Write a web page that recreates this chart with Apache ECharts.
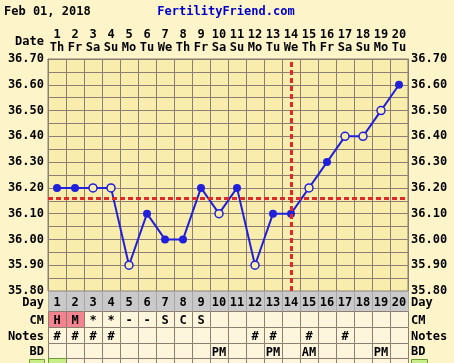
<!DOCTYPE html>
<html>
<head>
<meta charset="utf-8">
<script src="https://cdn.jsdelivr.net/npm/echarts@6/dist/echarts.min.js"></script>
<style>
html,body{margin:0;padding:0;background:#FDF5C9;}
#chart{width:454px;height:363px;}
</style>
</head>
<body>
<div id="chart"></div>
<script>
// ---- data ----
const chartDate = 'Feb 01, 2018';
const siteName = 'FertilityFriend.com';
const days = ['1','2','3','4','5','6','7','8','9','10','11','12','13','14','15','16','17','18','19','20'];
const weekdays = ['Th','Fr','Sa','Su','Mo','Tu','We','Th','Fr','Sa','Su','Mo','Tu','We','Th','Fr','Sa','Su','Mo','Tu'];
const temps = [36.20,36.20,36.20,36.20,35.90,36.10,36.00,36.00,36.20,36.10,36.20,35.90,36.10,36.10,36.20,36.30,36.40,36.40,36.50,36.60];
const openMarker = [false,false,true,true,true,false,false,false,false,true,false,true,false,false,true,false,true,true,true,false];
const cmRow = ['H','M','*','*','-','-','S','C','S','','','','','','','','','','',''];
const cmHighlight = [true,true,false,false,false,false,false,false,false,false,false,false,false,false,false,false,false,false,false,false];
const notesRow = ['#','#','#','#','','','','','','','','#','#','','#','','#','','',''];
const bdRow = ['','','','','','','','','','PM','','','PM','','AM','','','','PM',''];
const extraRowGreen = [true,false,false,false,false,false,false,false,false,false,false,false,false,false,false,false,false,false,false,false];
const coverline = 36.155;
const ovulationDay = '14';
const yTickLabels = ['35.80','35.90','36.00','36.10','36.20','36.30','36.40','36.50','36.60','36.70'];
const rowLabels = ['Day','CM','Notes','BD'];

// ---- style ----
const FONT = '"DejaVu Sans Mono", monospace';
const outerBg = '#FDF5C9';
const plotBg = '#F9EDAE';
const rowBg = '#FDF6DC';
const gridColor = '#8C7E70';
const blue = '#2020DC';
const red = '#E02A2A';
const txt = {fontFamily: FONT, fontWeight: 'bold', fontSize: 12, color: '#000'};

const chart = echarts.init(document.getElementById('chart'), null, {renderer: 'canvas'});

const rowH = [20, 16, 16, 15, 8];

function renderTable(params, api) {
  const i = api.value(0);
  const p = api.coord([i, 35.8]);
  const w = api.size([1, 0])[0];
  const x0 = Math.round(p[0] - w / 2) + 0.5;
  let y = Math.round(p[1]) + 0.5;
  const children = [];
  const rows = [
    {text: days[i], fill: '#C9C9C9', stroke: '#A8A8A8'},
    {text: cmRow[i], fill: cmHighlight[i] ? '#F2838F' : rowBg, stroke: gridColor},
    {text: notesRow[i], fill: rowBg, stroke: gridColor},
    {text: bdRow[i], fill: rowBg, stroke: gridColor},
    {text: '', fill: extraRowGreen[i] ? '#C8EE88' : rowBg, stroke: extraRowGreen[i] ? '#6E9A3A' : gridColor}
  ];
  rows.forEach(function (r, k) {
    const h = rowH[k];
    children.push({
      type: 'rect',
      shape: {x: x0, y: y, width: Math.round(w), height: h},
      style: {fill: r.fill, stroke: r.stroke, lineWidth: 1}
    });
    if (r.text) {
      children.push({
        type: 'text',
        style: {
          text: r.text, x: p[0], y: y + h / 2 + 1.5,
          align: 'center', verticalAlign: 'middle',
          font: 'bold 12px ' + FONT, fill: '#000'
        }
      });
    }
    y += h;
  });
  return {type: 'group', children: children};
}

const seriesData = temps.map(function (v, i) {
  return openMarker[i]
    ? {value: v, itemStyle: {color: plotBg, borderColor: blue, borderWidth: 1.5}}
    : {value: v, itemStyle: {color: blue, borderColor: blue, borderWidth: 0}};
});

const yLabelFmt = function (v) {
  const s = v.toFixed(2);
  return yTickLabels.indexOf(s) >= 0 ? s : '';
};

const labelYs = [303, 321, 337, 352];
const rowLabelGraphics = [];
rowLabels.forEach(function (t, k) {
  rowLabelGraphics.push({type: 'text', x: 44, y: labelYs[k], style: {text: t, font: 'bold 12px ' + FONT, fill: '#000', align: 'right', verticalAlign: 'middle'}});
  rowLabelGraphics.push({type: 'text', x: 411, y: labelYs[k], style: {text: t, font: 'bold 12px ' + FONT, fill: '#000', align: 'left', verticalAlign: 'middle'}});
});

const option = {
  backgroundColor: outerBg,
  animation: false,
  grid: {
    left: 48, right: 46, top: 59, height: 232,
    show: true, backgroundColor: plotBg, borderColor: gridColor, borderWidth: 1
  },
  xAxis: {
    type: 'category',
    data: days,
    position: 'top',
    boundaryGap: true,
    axisLine: {show: true, lineStyle: {color: gridColor}},
    axisTick: {show: false},
    splitLine: {show: true, interval: 0, lineStyle: {color: gridColor, width: 1}},
    axisLabel: {
      interval: 0, margin: 5,
      formatter: function (v, i) { return '{d|' + v + '}\n{w|' + weekdays[i] + '}'; },
      rich: {
        d: {fontFamily: FONT, fontWeight: 'bold', fontSize: 12, color: '#000', lineHeight: 13},
        w: {fontFamily: FONT, fontWeight: 'bold', fontSize: 12, color: '#000', lineHeight: 13}
      }
    }
  },
  yAxis: [
    {
      type: 'value', min: 35.8, max: 36.7, interval: 0.05, position: 'left',
      axisLine: {show: true, lineStyle: {color: gridColor}},
      axisTick: {show: false},
      splitLine: {show: true, lineStyle: {color: gridColor, width: 1}},
      axisLabel: Object.assign({margin: 4, formatter: yLabelFmt}, txt)
    },
    {
      type: 'value', min: 35.8, max: 36.7, interval: 0.05, position: 'right',
      axisLine: {show: true, lineStyle: {color: gridColor}},
      axisTick: {show: false},
      splitLine: {show: false},
      axisLabel: Object.assign({margin: 3, formatter: yLabelFmt}, txt)
    }
  ],
  graphic: [
    {type: 'text', left: 4, top: 6, style: {text: chartDate, font: 'bold 12px ' + FONT, fill: '#000'}},
    {type: 'text', x: 226, y: 12, style: {text: siteName, font: 'bold 12px ' + FONT, fill: '#0000CC', align: 'center', verticalAlign: 'middle'}},
    {type: 'text', x: 44, y: 42, style: {text: 'Date', font: 'bold 12px ' + FONT, fill: '#000', align: 'right', verticalAlign: 'middle'}},
    {type: 'rect', shape: {x: 29.5, y: 359.5, width: 15, height: 8}, style: {fill: '#C8EE88', stroke: '#6E9A3A'}},
    {type: 'rect', shape: {x: 411.5, y: 359.5, width: 16, height: 8}, style: {fill: '#C8EE88', stroke: '#6E9A3A'}}
  ].concat(rowLabelGraphics),
  series: [
    {
      type: 'line', data: [], yAxisIndex: 0, z: 1, silent: true,
      markLine: {
        silent: true, symbol: ['none', 'none'], label: {show: false},
        lineStyle: {color: red, type: [5, 3], width: 3},
        data: [{yAxis: coverline}, {xAxis: ovulationDay}]
      }
    },
    {
      type: 'line', data: seriesData, yAxisIndex: 0, z: 3,
      symbol: 'circle', symbolSize: 8, showAllSymbol: true,
      lineStyle: {color: blue, width: 2},
      itemStyle: {color: blue}
    },
    {
      type: 'custom', data: days.map(function (d, i) { return [i]; }),
      renderItem: renderTable, clip: false, silent: true, z: 2
    }
  ]
};
chart.setOption(option);
</script>
</body>
</html>
